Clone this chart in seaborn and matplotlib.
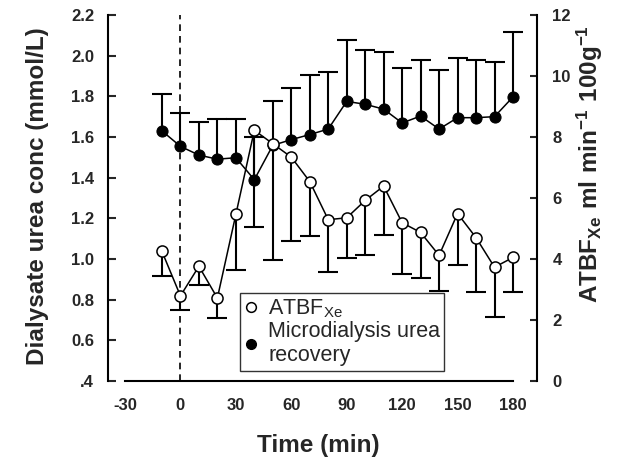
import numpy as np
import pandas as pd
import matplotlib
matplotlib.use("Agg")
import matplotlib.pyplot as plt
from matplotlib.lines import Line2D
import seaborn as sns

# ---- data ----
time_min = [-10, 0, 10, 20, 30, 40, 50, 60, 70, 80, 90, 100, 110, 120, 130, 140, 150, 160, 170, 180]
urea_recovery = [1.63, 1.554, 1.511, 1.491, 1.498, 1.39, 1.559, 1.587, 1.612, 1.639,
                 1.775, 1.761, 1.737, 1.669, 1.703, 1.639, 1.695, 1.695, 1.70, 1.797]
urea_sd = [0.18, 0.164, 0.163, 0.199, 0.191, 0.21, 0.218, 0.253, 0.292, 0.281,
           0.302, 0.267, 0.279, 0.271, 0.275, 0.29, 0.292, 0.283, 0.268, 0.318]
atbf = [4.25, 2.79, 3.76, 2.72, 5.46, 8.22, 7.78, 7.34, 6.54, 5.29,
        5.35, 5.92, 6.39, 5.19, 4.87, 4.12, 5.49, 4.70, 3.73, 4.05]
atbf_sd = [0.82, 0.45, 0.61, 0.67, 1.82, 3.16, 3.81, 2.76, 1.77, 1.71,
           1.32, 1.78, 1.60, 1.68, 1.48, 1.16, 1.68, 1.77, 1.62, 1.12]
x_ticks = [-30, 0, 30, 60, 90, 120, 150, 180]
left_ticks = [0.4, 0.6, 0.8, 1.0, 1.2, 1.4, 1.6, 1.8, 2.0, 2.2]
left_tick_labels = [".4", "0.6", "0.8", "1.0", "1.2", "1.4", "1.6", "1.8", "2.0", "2.2"]
right_ticks = [0, 2, 4, 6, 8, 10, 12]

df = pd.DataFrame({"time": time_min, "urea": urea_recovery, "urea_sd": urea_sd,
                   "atbf": atbf, "atbf_sd": atbf_sd})

sns.set_style("white")
plt.rcParams["font.family"] = ["Liberation Sans", "DejaVu Sans"]
plt.rcParams["mathtext.fontset"] = "custom"
plt.rcParams["mathtext.rm"] = "Liberation Sans"
plt.rcParams["mathtext.bf"] = "Liberation Sans:bold"

fig = plt.figure(figsize=(6.17, 4.57), dpi=100)
ax = fig.add_axes([108 / 617, 1 - 381 / 457, (537 - 108) / 617, (381 - 15) / 457])
ax2 = ax.twinx()


def one_sided(axis, x, y, err, upward):
    zeros = np.zeros(len(y))
    yerr = [zeros, err] if upward else [err, zeros]
    cont = axis.errorbar(x, y, yerr=yerr, fmt="none", ecolor="black", elinewidth=1.5,
                         capsize=7.5, capthick=1.5, zorder=2)
    # hide the cap that sits on the marker itself
    yv = np.asarray(y, dtype=float)
    for cap in cont[1]:
        if np.allclose(np.asarray(cap.get_ydata(), dtype=float), yv):
            cap.set_visible(False)


# filled: microdialysis urea recovery (left axis)
one_sided(ax, df["time"], df["urea"], df["urea_sd"], upward=True)
sns.lineplot(data=df, x="time", y="urea", ax=ax, color="black", linewidth=1.1,
             marker="o", markersize=8, markerfacecolor="black", markeredgecolor="black",
             zorder=3)

# open: ATBF (right axis)
one_sided(ax2, df["time"], df["atbf"], df["atbf_sd"], upward=False)
sns.lineplot(data=df, x="time", y="atbf", ax=ax2, color="black", linewidth=1.1,
             marker="o", markersize=8, markerfacecolor="white", markeredgecolor="black",
             markeredgewidth=1.1, zorder=3)

ax.axvline(0, color="black", linestyle=(0, (4, 3)), linewidth=1.2, zorder=1)

ax.set_xlim(-39.2, 193)
ax.set_ylim(0.4, 2.2)
ax2.set_ylim(0, 12)

ax.set_xticks(x_ticks)
ax.set_xticklabels([str(t) for t in x_ticks])
ax.set_yticks(left_ticks)
ax.set_yticklabels(left_tick_labels)
ax2.set_yticks(right_ticks)
ax2.set_yticklabels([str(t) for t in right_ticks])

for a in (ax, ax2):
    for s in a.spines.values():
        s.set_linewidth(1.5)
        s.set_color("black")
    a.spines["top"].set_visible(False)
ax.spines["right"].set_visible(False)
ax2.spines["left"].set_visible(False)
ax2.spines["bottom"].set_visible(False)
ax.spines["bottom"].set_bounds(-30, 180)

ax.tick_params(axis="x", direction="in", length=6, width=1.5, pad=12, labelsize=12)
ax.tick_params(axis="y", direction="in", length=6, width=1.5, pad=10, labelsize=12, left=True)
ax2.tick_params(axis="y", direction="in", length=5, width=1.5, pad=11, labelsize=12, right=True)
for lab in ax.get_xticklabels() + ax.get_yticklabels() + ax2.get_yticklabels():
    lab.set_fontweight("bold")

ax.set_xlabel("Time (min)", fontsize=17.5, fontweight="bold")
ax.xaxis.set_label_coords(0.49, -0.145)
ax.set_ylabel("Dialysate urea conc (mmol/L)", fontsize=17.5, fontweight="bold")
ax.yaxis.set_label_coords(-0.137, 0.504)
ax2.set_ylabel(r"$\mathbf{ATBF_{Xe}\ ml\ min^{-1}\ 100g^{-1}}$", fontsize=17.5, rotation=90)
ax2.yaxis.set_label_coords(1.088, 0.593)

handles = [
    Line2D([], [], linestyle="none", marker="o", markersize=7, markerfacecolor="white",
           markeredgecolor="black", markeredgewidth=1.1),
    Line2D([], [], linestyle="none", marker="o", markersize=7, markerfacecolor="black",
           markeredgecolor="black"),
]
labels = [r"ATBF$_{\mathrm{Xe}}$", "Microdialysis urea\nrecovery"]
leg = ax2.legend(handles, labels, loc="upper left", bbox_to_anchor=(0.308, 0.240),
                 borderaxespad=0, frameon=True, fancybox=False, fontsize=15.5,
                 handlelength=0.6, handletextpad=0.5, borderpad=0.2, labelspacing=0.05)
leg.get_frame().set_edgecolor("black")
leg.get_frame().set_linewidth(1.0)

fig.savefig("out.png", dpi=100)
